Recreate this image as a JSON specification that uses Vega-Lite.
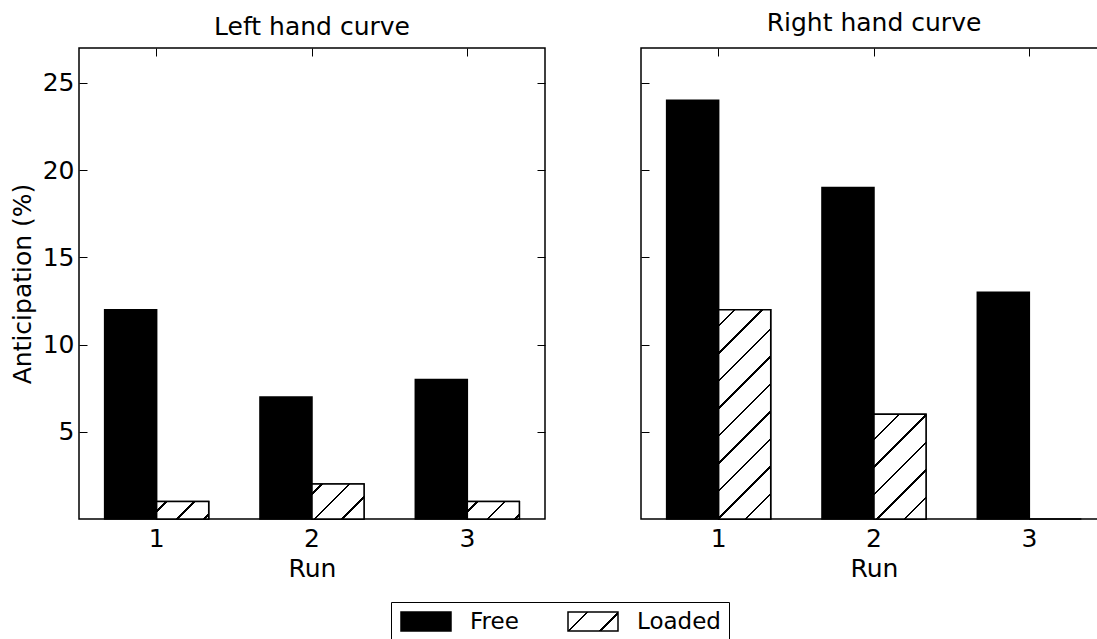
{
  "$schema": "https://vega.github.io/schema/vega-lite/v6.json",
  "background": "white",
  "padding": {"left": 9, "top": 10, "right": 0, "bottom": 0},
  "config": {
    "font": "DejaVu Sans",
    "view": {"stroke": "black", "strokeWidth": 1.5},
    "axis": {"grid": false, "domain": false, "tickColor": "black", "tickSize": -8, "labelColor": "black", "titleColor": "black", "labelFontSize": 25, "titleFontSize": 25, "titleFontWeight": "normal", "labelFont": "DejaVu Sans", "titleFont": "DejaVu Sans"},
    "title": {"fontSize": 25, "fontWeight": "normal", "color": "black", "frame": "group", "anchor": "middle", "font": "DejaVu Sans"}
  },
  "data": {"values": [
    {"panel": "Left", "run": "1", "series": "Free", "value": 12},
    {"panel": "Left", "run": "1", "series": "Loaded", "value": 1},
    {"panel": "Left", "run": "2", "series": "Free", "value": 7},
    {"panel": "Left", "run": "2", "series": "Loaded", "value": 2},
    {"panel": "Left", "run": "3", "series": "Free", "value": 8},
    {"panel": "Left", "run": "3", "series": "Loaded", "value": 1},
    {"panel": "Right", "run": "1", "series": "Free", "value": 24},
    {"panel": "Right", "run": "1", "series": "Loaded", "value": 12},
    {"panel": "Right", "run": "2", "series": "Free", "value": 19},
    {"panel": "Right", "run": "2", "series": "Loaded", "value": 6},
    {"panel": "Right", "run": "3", "series": "Free", "value": 13},
    {"panel": "Right", "run": "3", "series": "Loaded", "value": 0}
  ]},
  "spacing": 92,
  "hconcat": [
    {
      "width": 466,
      "height": 471,
      "title": {"text": "Left hand curve", "offset": -12.4, "baseline": "alphabetic"},
      "transform": [{"filter": "datum.panel === 'Left'"}],
      "encoding": {
        "x": {"field": "run", "type": "nominal", "scale": {"paddingInner": 0.33, "paddingOuter": 0.165}, "axis": null},
        "xOffset": {"field": "series", "type": "nominal", "scale": {"domain": ["Free", "Loaded"], "paddingInner": 0, "paddingOuter": 0}},
        "y": {"field": "value", "type": "quantitative", "scale": {"domain": [0, 27], "nice": false, "zero": true}, "axis": null}
      },
      "layer": [
        {
          "mark": {"type": "bar", "stroke": "black", "strokeWidth": 1.5},
          "encoding": {
            "x": {"field": "run", "type": "nominal", "scale": {"paddingInner": 0.33, "paddingOuter": 0.165}, "axis": {"orient": "bottom", "labelAngle": 0, "title": "Run", "labelPadding": 15, "titlePadding": 5}},
            "y": {"field": "value", "type": "quantitative", "scale": {"domain": [0, 27], "nice": false, "zero": true}, "axis": {"orient": "left", "values": [5, 10, 15, 20, 25], "title": "Anticipation (%)", "labelPadding": 13, "titlePadding": 7}},
            "fill": {
              "field": "series",
              "type": "nominal",
              "scale": {"domain": ["Free", "Loaded"], "range": ["black", {"expr": "{gradient: 'linear', x1: 0, y1: 0, x2: 1.2059, y2: 0.45823, stops: [{offset: 0, color: 'white'}, {offset: 0.26377, color: 'white'}, {offset: 0.26377, color: 'black'}, {offset: 0.30145, color: 'black'}, {offset: 0.30145, color: 'white'}, {offset: 0.72029, color: 'white'}, {offset: 0.72029, color: 'black'}, {offset: 0.75797, color: 'black'}, {offset: 0.75797, color: 'white'}]}"}]},
              "legend": {"title": null, "orient": "none", "legendX": 312, "legendY": 554, "direction": "horizontal", "symbolType": "M-1,-1L4.263,-1L4.263,1L-1,1Z", "symbolSize": 361, "symbolStrokeColor": "black", "symbolStrokeWidth": 1.5, "labelFontSize": 23, "labelColor": "black", "labelFont": "DejaVu Sans", "labelOffset": 48, "columnPadding": 46, "strokeColor": "black", "padding": 8, "fillColor": "white", "cornerRadius": 0}
            }
          }
        },
        {
          "transform": [{"filter": "datum.series === 'Loaded' && datum.run === '2'"}],
          "mark": {"type": "bar", "stroke": "black", "strokeWidth": 1.5, "color": {"gradient": "linear", "x1": 0, "y1": 0, "x2": 1.1524, "y2": 0.7728, "stops": [
            {"offset": 0, "color": "white"}, {"offset": 0.1001, "color": "white"}, {"offset": 0.1001, "color": "black"}, {"offset": 0.13, "color": "black"}, {"offset": 0.13, "color": "white"},
            {"offset": 0.4165, "color": "white"}, {"offset": 0.4165, "color": "black"}, {"offset": 0.4464, "color": "black"}, {"offset": 0.4464, "color": "white"},
            {"offset": 0.7329, "color": "white"}, {"offset": 0.7329, "color": "black"}, {"offset": 0.7628, "color": "black"}, {"offset": 0.7628, "color": "white"}]}}
        },
        {
          "transform": [{"filter": "datum.series === 'Loaded' && datum.run !== '2'"}],
          "mark": {"type": "bar", "stroke": "black", "strokeWidth": 1.5, "color": {"gradient": "linear", "x1": 0, "y1": 0, "x2": 1.2003, "y2": 0.4024, "stops": [
            {"offset": 0, "color": "white"}, {"offset": 0.1252, "color": "white"}, {"offset": 0.1252, "color": "black"}, {"offset": 0.1614, "color": "black"}, {"offset": 0.1614, "color": "white"},
            {"offset": 0.5211, "color": "white"}, {"offset": 0.5211, "color": "black"}, {"offset": 0.5585, "color": "black"}, {"offset": 0.5585, "color": "white"},
            {"offset": 0.917, "color": "white"}, {"offset": 0.917, "color": "black"}, {"offset": 0.9544, "color": "black"}, {"offset": 0.9544, "color": "white"}]}}
        },
        {
          "mark": {"type": "bar", "opacity": 0},
          "encoding": {
            "x": {"field": "run", "type": "nominal", "scale": {"paddingInner": 0.33, "paddingOuter": 0.165}, "axis": {"orient": "top", "labels": false, "title": null}},
            "y": {"field": "value", "type": "quantitative", "scale": {"domain": [0, 27], "nice": false, "zero": true}, "axis": {"orient": "right", "labels": false, "title": null, "values": [5, 10, 15, 20, 25]}}
          }
        }
      ],
      "resolve": {"axis": {"x": "independent", "y": "independent"}}
    },
    {
      "width": 466,
      "height": 471,
      "title": {"text": "Right hand curve", "offset": -8.4, "baseline": "alphabetic"},
      "transform": [{"filter": "datum.panel === 'Right'"}],
      "encoding": {
        "x": {"field": "run", "type": "nominal", "scale": {"paddingInner": 0.33, "paddingOuter": 0.165}, "axis": null},
        "xOffset": {"field": "series", "type": "nominal", "scale": {"domain": ["Free", "Loaded"], "paddingInner": 0, "paddingOuter": 0}},
        "y": {"field": "value", "type": "quantitative", "scale": {"domain": [0, 27], "nice": false, "zero": true}, "axis": null}
      },
      "layer": [
        {
          "mark": {"type": "bar", "stroke": "black", "strokeWidth": 1.5},
          "encoding": {
            "x": {"field": "run", "type": "nominal", "scale": {"paddingInner": 0.33, "paddingOuter": 0.165}, "axis": {"orient": "bottom", "labelAngle": 0, "title": "Run", "labelPadding": 15, "titlePadding": 5}},
            "y": {"field": "value", "type": "quantitative", "scale": {"domain": [0, 27], "nice": false, "zero": true}, "axis": {"orient": "left", "values": [5, 10, 15, 20, 25], "labels": false, "title": null}},
            "fill": {"field": "series", "type": "nominal", "legend": null}
          }
        },
        {
          "transform": [{"filter": "datum.series === 'Loaded' && datum.run === '1'"}],
          "mark": {"type": "bar", "stroke": "black", "strokeWidth": 1.5, "color": {"gradient": "linear", "x1": 0, "y1": 0, "x2": 0.29227, "y2": 1.1759, "stops": [
            {"offset": 0, "color": "white"}, {"offset": 0.05624, "color": "white"}, {"offset": 0.05624, "color": "black"}, {"offset": 0.06619, "color": "black"}, {"offset": 0.06619, "color": "white"},
            {"offset": 0.16146, "color": "white"}, {"offset": 0.16146, "color": "black"}, {"offset": 0.17141, "color": "black"}, {"offset": 0.17141, "color": "white"},
            {"offset": 0.26668, "color": "white"}, {"offset": 0.26668, "color": "black"}, {"offset": 0.27663, "color": "black"}, {"offset": 0.27663, "color": "white"},
            {"offset": 0.3719, "color": "white"}, {"offset": 0.3719, "color": "black"}, {"offset": 0.38185, "color": "black"}, {"offset": 0.38185, "color": "white"},
            {"offset": 0.47712, "color": "white"}, {"offset": 0.47712, "color": "black"}, {"offset": 0.48707, "color": "black"}, {"offset": 0.48707, "color": "white"},
            {"offset": 0.58234, "color": "white"}, {"offset": 0.58234, "color": "black"}, {"offset": 0.59229, "color": "black"}, {"offset": 0.59229, "color": "white"},
            {"offset": 0.68756, "color": "white"}, {"offset": 0.68756, "color": "black"}, {"offset": 0.6975, "color": "black"}, {"offset": 0.6975, "color": "white"},
            {"offset": 0.79278, "color": "white"}, {"offset": 0.79278, "color": "black"}, {"offset": 0.80272, "color": "black"}, {"offset": 0.80272, "color": "white"},
            {"offset": 0.898, "color": "white"}, {"offset": 0.898, "color": "black"}, {"offset": 0.90794, "color": "black"}, {"offset": 0.90794, "color": "white"}]}}
        },
        {
          "transform": [{"filter": "datum.series === 'Loaded' && datum.run === '2'"}],
          "mark": {"type": "bar", "stroke": "black", "strokeWidth": 1.5, "color": {"gradient": "linear", "x1": 0, "y1": 0, "x2": 0.59673, "y2": 1.2004, "stops": [
            {"offset": 0, "color": "white"}, {"offset": 0.15124, "color": "white"}, {"offset": 0.15124, "color": "black"}, {"offset": 0.16784, "color": "black"}, {"offset": 0.16784, "color": "white"},
            {"offset": 0.32674, "color": "white"}, {"offset": 0.32674, "color": "black"}, {"offset": 0.34333, "color": "black"}, {"offset": 0.34333, "color": "white"},
            {"offset": 0.50223, "color": "white"}, {"offset": 0.50223, "color": "black"}, {"offset": 0.51882, "color": "black"}, {"offset": 0.51882, "color": "white"},
            {"offset": 0.67773, "color": "white"}, {"offset": 0.67773, "color": "black"}, {"offset": 0.69432, "color": "black"}, {"offset": 0.69432, "color": "white"},
            {"offset": 0.85322, "color": "white"}, {"offset": 0.85322, "color": "black"}, {"offset": 0.86981, "color": "black"}, {"offset": 0.86981, "color": "white"}]}}
        },
        {
          "mark": {"type": "bar", "opacity": 0},
          "encoding": {
            "x": {"field": "run", "type": "nominal", "scale": {"paddingInner": 0.33, "paddingOuter": 0.165}, "axis": {"orient": "top", "labels": false, "title": null}},
            "y": {"field": "value", "type": "quantitative", "scale": {"domain": [0, 27], "nice": false, "zero": true}, "axis": {"orient": "right", "labels": false, "title": null, "values": [5, 10, 15, 20, 25]}}
          }
        }
      ],
      "resolve": {"axis": {"x": "independent", "y": "independent"}}
    }
  ]
}
